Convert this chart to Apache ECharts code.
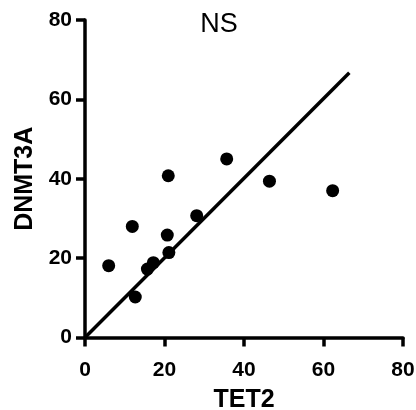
<!DOCTYPE html>
<html><head><meta charset="utf-8">
<script src="https://cdn.jsdelivr.net/npm/echarts@6/dist/echarts.min.js"></script>
<style>html,body{margin:0;padding:0;background:#fff}#c{width:416px;height:410px}</style>
</head><body><div id="c"></div>
<script>
const tet2 = [5.96, 11.9, 12.65, 15.7, 17.2, 21.1, 20.7, 28.1, 20.95, 35.65, 46.4, 62.3];
const dnmt3a = [18.1, 28.0, 10.2, 17.25, 18.85, 21.4, 25.8, 30.7, 40.75, 45.0, 39.4, 37.0];
const lineX = [0, 66.5];
const lineY = [0, 66.7];
const axisTicks = [0, 20, 40, 60, 80];

const chart = echarts.init(document.getElementById('c'));
function axis(extra) {
  return Object.assign({
    type: 'value', min: axisTicks[0], max: axisTicks[axisTicks.length - 1], interval: 20,
    splitLine: { show: false },
    axisLine: { show: true, lineStyle: { color: '#000', width: 3.5 } },
    axisTick: { show: true, length: 9, lineStyle: { color: '#000', width: 3.5 } },
    nameLocation: 'middle',
    nameTextStyle: { color: '#000', fontSize: 25, fontWeight: 'bold', fontFamily: 'Liberation Sans' }
  }, extra);
}
chart.setOption({
  animation: false,
  backgroundColor: '#fff',
  title: { text: 'NS', left: 214, top: 6, textAlign: 'center',
    textStyle: { color: '#000', fontSize: 27, fontWeight: 'normal', fontFamily: 'Liberation Sans' } },
  grid: { left: 85, right: 13, top: 20, bottom: 72.5, outerBoundsMode: 'none' },
  xAxis: axis({ name: 'TET2', nameGap: 50,
    axisLabel: { color: '#000', fontSize: 21, fontWeight: 'bold', fontFamily: 'Liberation Sans', margin: 22 } }),
  yAxis: axis({ name: 'DNMT3A', nameGap: 46,
    axisLabel: { color: '#000', fontSize: 21, fontWeight: 'bold', fontFamily: 'Liberation Sans', margin: 13 } }),
  series: [
    { type: 'line', data: lineX.map((x, i) => [x, lineY[i]]), showSymbol: false, symbol: 'none',
      lineStyle: { color: '#000', width: 3.5 }, z: 2 },
    { type: 'scatter', data: tet2.map((x, i) => [x, dnmt3a[i]]), symbol: 'circle', symbolSize: 13,
      itemStyle: { color: '#000', opacity: 1 }, z: 3 }
  ]
});
</script></body></html>
